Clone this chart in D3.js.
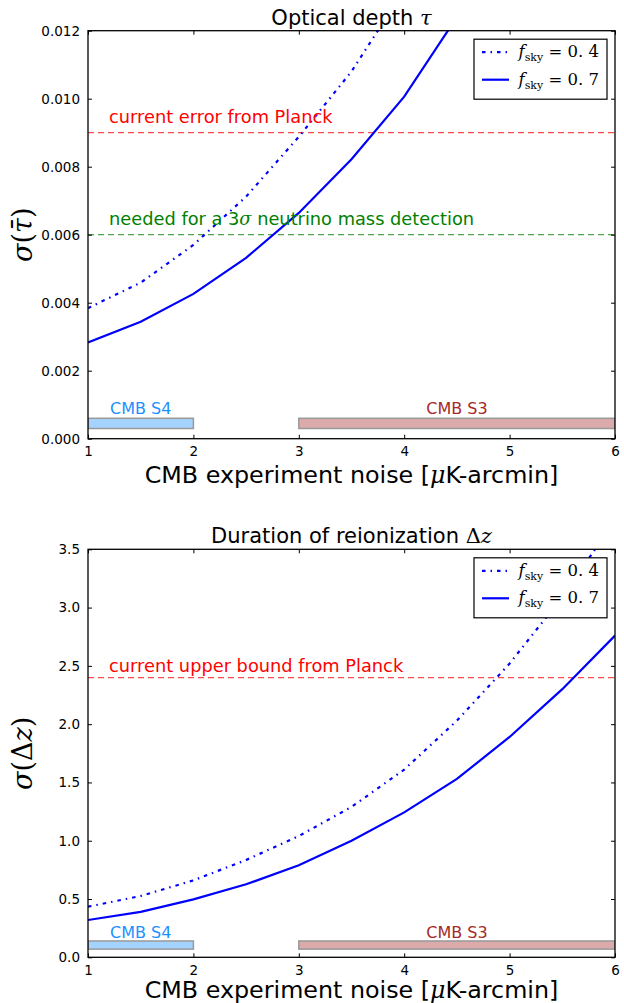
<!DOCTYPE html>
<html>
<head>
<meta charset="utf-8">
<script src="https://cdn.jsdelivr.net/npm/d3@7"></script>
<style>
  body { margin: 0; background: #fff; }
  text { font-family: "DejaVu Sans", sans-serif; }
  .math { font-family: "DejaVu Serif", serif; }
</style>
</head>
<body>
<svg id="chart" width="624" height="1003"></svg>
<script>
// noise levels [muK-arcmin]
var noise = [1, 1.5, 2, 2.5, 3, 3.5, 4, 4.5, 5, 5.5, 6];

// sigma(tau) for two sky fractions
var tauSky04 = [0.00384, 0.00459, 0.0057, 0.00712, 0.00888, 0.0108, 0.0132, 0.0160, 0.0192, 0.0228, 0.0268];
var tauSky07 = [0.00283, 0.00344, 0.00426, 0.00532, 0.00664, 0.00822, 0.01006, 0.0124, 0.0150, 0.0180, 0.0214];

// sigma(delta z) for two sky fractions
var dzSky04 = [0.434, 0.526, 0.66, 0.835, 1.04, 1.29, 1.61, 2.03, 2.52, 3.09, 3.75];
var dzSky07 = [0.32, 0.39, 0.497, 0.626, 0.79, 1.0, 1.243, 1.53, 1.89, 2.30, 2.76];

var xTicks = [1, 2, 3, 4, 5, 6];
var tauTicks = [0, 0.002, 0.004, 0.006, 0.008, 0.010, 0.012];
var dzTicks = [0, 0.5, 1, 1.5, 2, 2.5, 3, 3.5];

// experiment ranges
var experiments = [
  {name: "CMB S4", x0: 1, x1: 2, fill: "#a5d3ff", color: "#1e90ff"},
  {name: "CMB S3", x0: 3, x1: 6, fill: "#dbaaaa", color: "#a52a2a"}
];

var dashDot = "3.5,5,1.5,5";
var svg = d3.select("#chart");

function drawPanel(opts) {
  var x = d3.scaleLinear().domain([1, 6]).range([88, 615]);
  var y = d3.scaleLinear().domain(opts.yDomain).range([opts.bottom, opts.top]);
  var g = svg.append("g");
  var clipId = "clip" + opts.id;

  g.append("clipPath").attr("id", clipId)
    .append("rect")
    .attr("x", x(1)).attr("y", y(opts.yDomain[1]))
    .attr("width", x(6) - x(1)).attr("height", y(opts.yDomain[0]) - y(opts.yDomain[1]));

  var plot = g.append("g").attr("clip-path", "url(#" + clipId + ")");

  // reference lines
  opts.refs.forEach(function(r) {
    plot.append("line")
      .attr("x1", x(1)).attr("x2", x(6))
      .attr("y1", y(r.value)).attr("y2", y(r.value))
      .attr("stroke", r.color).attr("stroke-opacity", 0.7)
      .attr("stroke-width", 1.3).attr("stroke-dasharray", "6,4");
    g.append("text")
      .attr("x", x(1.2)).attr("y", y(r.value + opts.refOffset))
      .attr("fill", r.color).attr("font-size", 17.8)
      .html(r.label);
  });

  // experiment bars
  experiments.forEach(function(e) {
    plot.append("rect")
      .attr("x", x(e.x0)).attr("width", x(e.x1) - x(e.x0))
      .attr("y", y(opts.bar[1])).attr("height", y(opts.bar[0]) - y(opts.bar[1]))
      .attr("fill", e.fill).attr("stroke", "#999").attr("stroke-width", 1.5);
    g.append("text")
      .attr("x", x((e.x0 + e.x1) / 2)).attr("y", y(opts.labelY))
      .attr("text-anchor", "middle").attr("fill", e.color).attr("font-size", 16)
      .text(e.name);
  });

  var line = d3.line()
    .x(function(d) { return x(d[0]); })
    .y(function(d) { return y(d[1]); });

  plot.append("path")
    .datum(d3.zip(noise, opts.s04))
    .attr("d", line).attr("fill", "none")
    .attr("stroke", "#0000ff").attr("stroke-width", 2.2)
    .attr("stroke-dasharray", dashDot);
  plot.append("path")
    .datum(d3.zip(noise, opts.s07))
    .attr("d", line).attr("fill", "none")
    .attr("stroke", "#0000ff").attr("stroke-width", 2.2);

  // axes, ticks inside on all sides
  var h = opts.bottom - opts.top;
  var w = x(6) - x(1);
  g.append("g").attr("transform", "translate(0," + opts.bottom + ")")
    .call(d3.axisBottom(x).tickValues(xTicks).tickSizeInner(-4).tickSizeOuter(0).tickPadding(8).tickFormat(d3.format("d")));
  g.append("g").attr("transform", "translate(0," + opts.top + ")")
    .call(d3.axisTop(x).tickValues(xTicks).tickSizeInner(-4).tickSizeOuter(0).tickFormat(""));
  g.append("g").attr("transform", "translate(88,0)")
    .call(d3.axisLeft(y).tickValues(opts.yTicks).tickSizeInner(-4).tickSizeOuter(0).tickPadding(8).tickFormat(d3.format(opts.yFormat)));
  g.append("g").attr("transform", "translate(615,0)")
    .call(d3.axisRight(y).tickValues(opts.yTicks).tickSizeInner(-4).tickSizeOuter(0).tickFormat(""));
  g.selectAll(".domain").remove();
  g.selectAll(".tick line").attr("stroke", "#000").attr("stroke-width", 1);
  g.selectAll(".tick text").attr("font-size", 13.5).attr("font-family", "DejaVu Sans").attr("fill", "#000");

  g.append("rect")
    .attr("x", x(1)).attr("y", opts.top).attr("width", w).attr("height", h)
    .attr("fill", "none").attr("stroke", "#000").attr("stroke-width", 1.3);

  // title and axis labels
  g.append("text")
    .attr("x", (x(1) + x(6)) / 2).attr("y", opts.top - 6)
    .attr("text-anchor", "middle").attr("font-size", 21)
    .html(opts.title);
  g.append("text")
    .attr("x", (x(1) + x(6)) / 2).attr("y", opts.bottom + opts.xlabelDy)
    .attr("text-anchor", "middle").attr("font-size", 23.8)
    .html('CMB experiment noise [<tspan class="math" font-style="italic">μ</tspan>K-arcmin]');
  g.append("text")
    .attr("transform", "translate(32," + ((opts.top + opts.bottom) / 2) + ") rotate(-90)")
    .attr("text-anchor", "middle").attr("font-size", 27).attr("class", "math")
    .html(opts.ylabel);

  // legend
  var lg = g.append("g").attr("transform", "translate(474," + (opts.top + 8.5) + ")");
  lg.append("rect").attr("width", 133).attr("height", 60)
    .attr("fill", "#fff").attr("stroke", "#000").attr("stroke-width", 1.2);
  [["0.4", dashDot, 13], ["0.7", null, 40.5]].forEach(function(it) {
    var ln = lg.append("line").attr("x1", 8).attr("x2", 35)
      .attr("y1", it[2]).attr("y2", it[2])
      .attr("stroke", "#0000ff").attr("stroke-width", 2.2);
    if (it[1]) ln.attr("stroke-dasharray", it[1]);
    lg.append("text").attr("class", "math").attr("x", 125).attr("y", it[2] + 5)
      .attr("text-anchor", "end").attr("font-size", 16.5)
      .html('<tspan font-style="italic">f</tspan><tspan font-size="11" dy="4">sky</tspan><tspan dy="-4"> = 0. ' + it[0].slice(2) + '</tspan>');
  });
}

drawPanel({
  id: 1, top: 30.7, bottom: 438.7, yDomain: [0, 0.012], yTicks: tauTicks, yFormat: ".3f",
  s04: tauSky04, s07: tauSky07, xlabelDy: 44,
  refs: [
    {value: 0.009, color: "#ff0000", label: "current error from Planck"},
    {value: 0.006, color: "#008000", label: 'needed for a 3<tspan class="math" font-style="italic">σ</tspan> neutrino mass detection'}
  ],
  refOffset: 0.0003, bar: [0.0003, 0.0006], labelY: 0.00072,
  title: 'Optical depth <tspan class="math" font-style="italic">τ</tspan>',
  ylabel: '<tspan font-style="italic">σ</tspan>(<tspan font-style="italic">τ̄</tspan>)'
});

drawPanel({
  id: 2, top: 549.3, bottom: 957.3, yDomain: [0, 3.5], yTicks: dzTicks, yFormat: ".1f",
  s04: dzSky04, s07: dzSky07, xlabelDy: 41,
  refs: [
    {value: 2.4, color: "#ff0000", label: "current upper bound from Planck"}
  ],
  refOffset: 0.05, bar: [0.07, 0.14], labelY: 0.163,
  title: 'Duration of reionization <tspan class="math">Δ</tspan><tspan class="math" font-style="italic">z</tspan>',
  ylabel: '<tspan font-style="italic">σ</tspan>(Δ<tspan font-style="italic">z</tspan>)'
});
</script>
</body>
</html>
